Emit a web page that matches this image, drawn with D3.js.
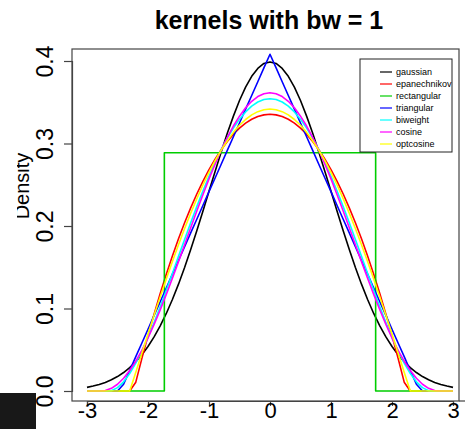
<!DOCTYPE html>
<html><head><meta charset="utf-8">
<script src="https://cdn.jsdelivr.net/npm/d3@7"></script>
<style>html,body{margin:0;padding:0;background:#fff;}</style>
</head><body>
<svg id="c" width="465" height="429"></svg>
<script>
// grid of x values (density evaluated points)
const xs = [-3,-2.9,-2.8,-2.7,-2.6,-2.5,-2.4,-2.3,-2.2,-2.1,-2,-1.9,-1.8,-1.7,-1.6,-1.5,-1.4,-1.3,-1.2,-1.1,-1,-0.9,-0.8,-0.7,-0.6,-0.5,-0.4,-0.3,-0.2,-0.1,0,0.1,0.2,0.3,0.4,0.5,0.6,0.7,0.8,0.9,1,1.1,1.2,1.3,1.4,1.5,1.6,1.7,1.8,1.9,2,2.1,2.2,2.3,2.4,2.5,2.6,2.7,2.8,2.9,3];
const gaussian = [0.0044,0.0060,0.0079,0.0104,0.0136,0.0175,0.0224,0.0283,0.0355,0.0440,0.0540,0.0656,0.0790,0.0940,0.1109,0.1295,0.1497,0.1714,0.1942,0.2179,0.2420,0.2661,0.2897,0.3123,0.3332,0.3521,0.3683,0.3814,0.3910,0.3970,0.3989,0.3970,0.3910,0.3814,0.3683,0.3521,0.3332,0.3123,0.2897,0.2661,0.2420,0.2179,0.1942,0.1714,0.1497,0.1295,0.1109,0.0940,0.0790,0.0656,0.0540,0.0440,0.0355,0.0283,0.0224,0.0175,0.0136,0.0104,0.0079,0.0060,0.0044];
const epanechnikov = [0,0,0,0,0,0,0,0,0.0107,0.0396,0.0671,0.0932,0.1181,0.1415,0.1637,0.1845,0.2039,0.2220,0.2388,0.2542,0.2683,0.2811,0.2925,0.3025,0.3113,0.3186,0.3247,0.3294,0.3327,0.3347,0.3354,0.3347,0.3327,0.3294,0.3247,0.3186,0.3113,0.3025,0.2925,0.2811,0.2683,0.2542,0.2388,0.2220,0.2039,0.1845,0.1637,0.1415,0.1181,0.0932,0.0671,0.0396,0.0107,0,0,0,0,0,0,0,0];
const triangular = [0,0,0,0,0,0,0.0082,0.0249,0.0416,0.0582,0.0749,0.0916,0.1082,0.1249,0.1416,0.1582,0.1749,0.1916,0.2082,0.2249,0.2416,0.2582,0.2749,0.2916,0.3082,0.3249,0.3416,0.3582,0.3749,0.3916,0.4082,0.3916,0.3749,0.3582,0.3416,0.3249,0.3082,0.2916,0.2749,0.2582,0.2416,0.2249,0.2082,0.1916,0.1749,0.1582,0.1416,0.1249,0.1082,0.0916,0.0749,0.0582,0.0416,0.0249,0.0082,0,0,0,0,0,0];
const biweight = [0,0,0,0,0.0004,0.0041,0.0111,0.0211,0.0337,0.0485,0.0651,0.0831,0.1022,0.1221,0.1425,0.1632,0.1837,0.2039,0.2235,0.2424,0.2603,0.2771,0.2925,0.3065,0.3188,0.3295,0.3383,0.3453,0.3503,0.3533,0.3543,0.3533,0.3503,0.3453,0.3383,0.3295,0.3188,0.3065,0.2925,0.2771,0.2603,0.2424,0.2235,0.2039,0.1837,0.1632,0.1425,0.1221,0.1022,0.0831,0.0651,0.0485,0.0337,0.0211,0.0111,0.0041,0.0004,0,0,0,0];
const cosine = [0,0,0,0.0005,0.0032,0.0082,0.0154,0.0248,0.0361,0.0493,0.0642,0.0807,0.0984,0.1171,0.1367,0.1568,0.1773,0.1978,0.2181,0.2379,0.2571,0.2749,0.2919,0.3073,0.3212,0.3331,0.3434,0.3512,0.3569,0.3603,0.3615,0.3603,0.3569,0.3512,0.3434,0.3331,0.3212,0.3073,0.2919,0.2749,0.2571,0.2379,0.2181,0.1978,0.1773,0.1568,0.1367,0.1171,0.0984,0.0807,0.0642,0.0493,0.0361,0.0248,0.0154,0.0082,0.0032,0.0005,0,0,0];
const optcosine = [0,0,0,0,0,0,0,0,0.0228,0.0459,0.0690,0.0917,0.1140,0.1358,0.1570,0.1773,0.1969,0.2155,0.2331,0.2497,0.2650,0.2791,0.2920,0.3034,0.3135,0.3221,0.3291,0.3347,0.3386,0.3410,0.3418,0.3410,0.3386,0.3347,0.3291,0.3221,0.3135,0.3034,0.2920,0.2791,0.2650,0.2497,0.2331,0.2155,0.1969,0.1773,0.1570,0.1358,0.1140,0.0917,0.0690,0.0459,0.0228,0,0,0,0,0,0,0,0];
// rectangular kernel has its own breakpoints
const rectX = [-3,-1.732,-1.732,1.732,1.732,3];
const rectY = [0,0,0.2887,0.2887,0,0];

const kernelNames = ["gaussian","epanechnikov","rectangular","triangular","biweight","cosine","optcosine"];
const kernelColors = ["#000000","#ff0000","#00cd00","#0000ff","#00ffff","#ff00ff","#ffff00"];
const xTicks = [-3,-2,-1,0,1,2,3];
const yTicks = [0,0.1,0.2,0.3,0.4];
const yTickLabels = ["0.0","0.1","0.2","0.3","0.4"];
const titleText = "kernels with bw = 1";
const yLabelText = "Density";

const series = [
  {name:"gaussian", xv:xs, yv:gaussian},
  {name:"epanechnikov", xv:xs, yv:epanechnikov},
  {name:"rectangular", xv:rectX, yv:rectY},
  {name:"triangular", xv:xs, yv:triangular},
  {name:"biweight", xv:xs, yv:biweight},
  {name:"cosine", xv:xs, yv:cosine},
  {name:"optcosine", xv:xs, yv:optcosine}
];

const svg = d3.select("#c");
const font = "'Liberation Sans', Arial, Helvetica, sans-serif";
const x = d3.scaleLinear().domain([-3,3]).range([87,453]);
const y = d3.scaleLinear().domain([0,0.4]).range([391,61]);
const box = {l:72, t:49, r:459, b:401};

// dark artifact bottom-left
svg.append("rect").attr("x",0).attr("y",393).attr("width",36).attr("height",36).attr("fill","#181818");

// curves (draw in order: gaussian first)
const line = d3.line().x(d=>x(d[0])).y(d=>y(d[1]));
series.forEach((s,i)=>{
  const pts = s.xv.map((v,j)=>[v,s.yv[j]]);
  svg.append("path").attr("d",line(pts)).attr("fill","none")
    .attr("stroke",kernelColors[i]).attr("stroke-width",1.6).attr("stroke-linejoin","round");
});

// box
svg.append("rect").attr("x",box.l).attr("y",box.t).attr("width",box.r-box.l).attr("height",box.b-box.t)
  .attr("fill","none").attr("stroke","#444").attr("stroke-width",1.2);
svg.append("line").attr("x1",box.r).attr("x2",465).attr("y1",box.b).attr("y2",box.b)
  .attr("stroke","#444").attr("stroke-width",1.2);

// x axis
const xa = svg.append("g").attr("transform",`translate(0,${box.b})`)
  .call(d3.axisBottom(x).tickValues(xTicks).tickSize(5).tickFormat(d3.format("d")));
xa.select(".domain").attr("stroke","#444").attr("stroke-width",1.2);
xa.selectAll(".tick line").attr("stroke","#444").attr("stroke-width",1.2);
xa.selectAll(".tick text").attr("font-family",font).attr("font-size",22).attr("fill","#000")
  .attr("dy",null).attr("y",17).text(d=>d<0?"-"+Math.abs(d):d);

// y axis
const ya = svg.append("g").attr("transform",`translate(${box.l},0)`)
  .call(d3.axisLeft(y).tickValues(yTicks).tickSize(8).tickFormat((d,i)=>yTickLabels[i]));
ya.select(".domain").attr("stroke","#444").attr("stroke-width",1.2);
ya.selectAll(".tick line").attr("stroke","#444").attr("stroke-width",1.2);
ya.selectAll(".tick text").attr("font-family",font).attr("font-size",23).attr("fill","#000")
  .attr("x",null).attr("dy",null).attr("text-anchor","middle")
  .attr("transform","translate(-19,0) rotate(-90)");

// title
svg.append("text").attr("x",269).attr("y",29).attr("text-anchor","middle")
  .attr("font-family",font).attr("font-weight","bold").attr("font-size",25).text(titleText);

// y label (top of letters clipped)
svg.append("clipPath").attr("id","yl").attr("clipPathUnits","userSpaceOnUse")
  .append("rect").attr("x",17).attr("y",0).attr("width",60).attr("height",429);
svg.append("g").attr("clip-path","url(#yl)")
  .append("text")
  .attr("transform","translate(29,186) rotate(-90)").attr("text-anchor","middle")
  .attr("font-family",font).attr("font-size",20).attr("fill","#000").text(yLabelText);

// legend
const lg = svg.append("g");
lg.append("rect").attr("x",360).attr("y",59).attr("width",92).attr("height",93)
  .attr("fill","#fff").attr("stroke","#222").attr("stroke-width",1);
kernelNames.forEach((k,i)=>{
  const yy = 72 + i*12;
  lg.append("line").attr("x1",380).attr("x2",392).attr("y1",yy).attr("y2",yy)
    .attr("stroke",kernelColors[i]).attr("stroke-width",1.2);
  lg.append("text").attr("x",396).attr("y",yy+3).attr("font-family",font).attr("font-size",9).text(k);
});
</script>
</body></html>
